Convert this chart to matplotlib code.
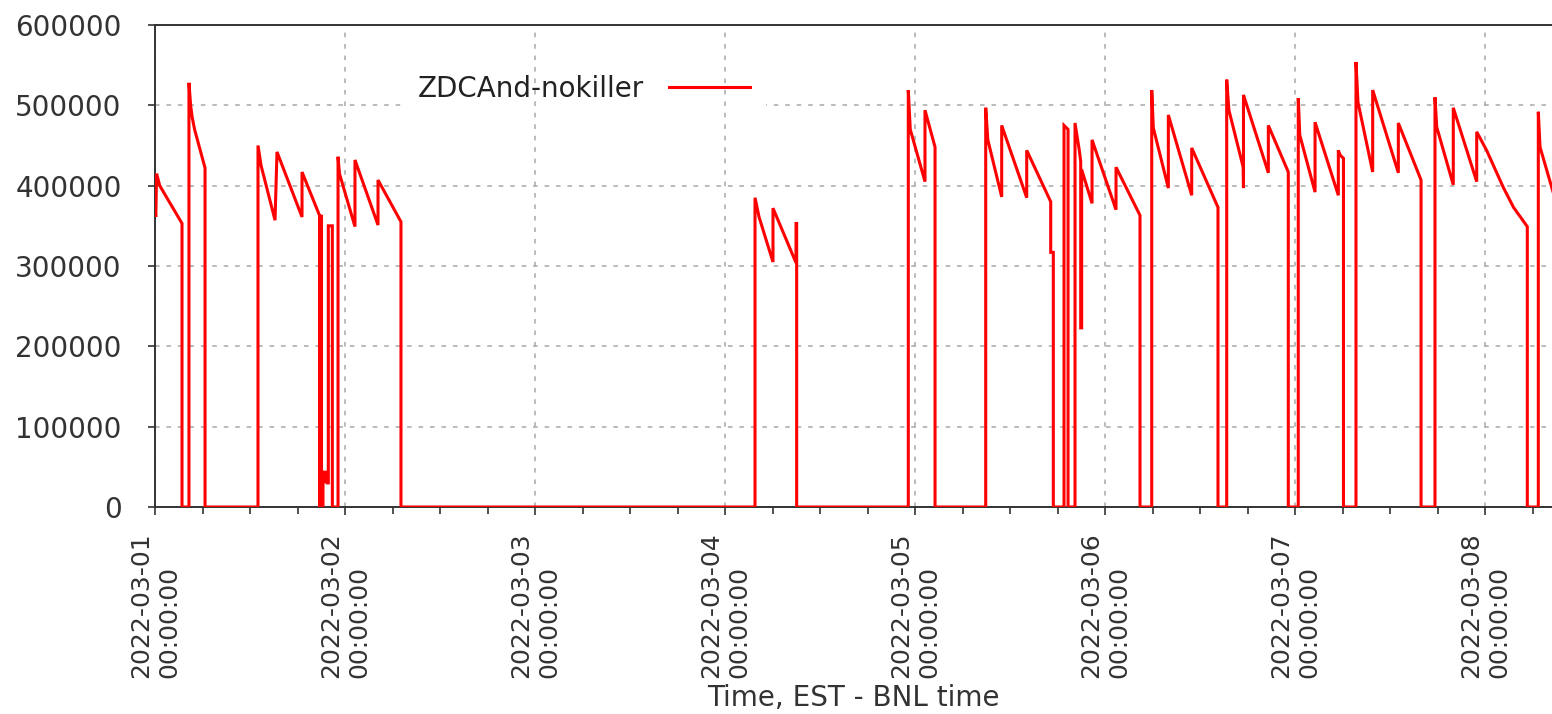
import matplotlib
matplotlib.use("Agg")
import matplotlib.pyplot as plt
import matplotlib.dates as mdates
from matplotlib.patches import Rectangle
import pandas as pd
import numpy as np

# ---- data: hours since 2022-03-01 00:00 (EST) and ZDCAnd-nokiller rate ----
start_time = "2022-03-01 00:00:00"
end_hours = 176.46
series_label = "ZDCAnd-nokiller"
x_label = "Time, EST - BNL time"
y_ticks = [0, 100000, 200000, 300000, 400000, 500000, 600000]

t_hours = [
    0.00, 0.10, 0.20, 0.60, 3.41, 3.41, 4.29, 4.29, 4.50, 4.70, 5.00, 6.32, 6.32,
    13.01, 13.01, 13.40, 15.16, 15.41, 18.57, 18.57, 20.78, 20.78, 20.91, 20.91,
    21.03, 21.03, 21.22, 21.22, 21.47, 21.60, 21.73, 21.89, 21.89, 22.40, 22.40,
    23.12, 23.12, 23.30, 25.26, 25.26, 28.17, 28.17, 31.07, 31.07,
    75.79, 75.79, 76.30, 78.06, 78.06, 80.97, 80.97, 81.05, 81.05,
    95.15, 95.15, 95.40, 97.26, 97.26, 98.53, 98.53,
    104.93, 104.93, 105.20, 106.95, 106.95, 110.11, 110.11, 113.14, 113.14,
    113.47, 113.47, 114.82, 114.82, 115.33, 115.33, 116.21, 116.21, 116.75,
    116.93, 116.93, 117.05, 117.05, 118.36, 118.36, 121.39, 121.39, 124.42,
    124.42, 125.90, 125.90, 126.10, 128.00, 128.00, 130.95, 130.95, 134.27,
    134.27, 135.37, 135.37, 135.65, 137.45, 137.49, 137.49, 140.63, 140.63,
    143.15, 143.15, 144.41, 144.41, 144.60, 146.53, 146.53, 149.47, 149.47,
    149.70, 150.12, 150.12, 151.70, 151.70, 151.95, 153.81, 153.81, 157.05,
    157.05, 159.92, 159.92, 161.68, 161.68, 161.90, 163.99, 163.99, 166.95,
    166.95, 168.20, 170.30, 171.60, 173.34, 173.34, 174.73, 174.73, 174.95,
    176.60,
]
zdc_rate = [
    372000, 361000, 415000, 400000, 353000, 0, 0, 528000, 500000, 485000, 470000, 422000, 0,
    0, 450000, 425000, 357000, 442000, 361000, 417000, 363000, 0, 0, 362000,
    362000, 0, 0, 45000, 30000, 45000, 30000, 30000, 350000, 350000, 0,
    0, 436000, 415000, 349000, 432000, 351000, 407000, 355000, 0,
    0, 385000, 361000, 305000, 372000, 304000, 353000, 353000, 0,
    0, 519000, 470000, 405000, 494000, 448000, 0,
    0, 497000, 457000, 386000, 475000, 385000, 444000, 380000, 317000,
    317000, 0, 0, 475000, 470000, 0, 0, 478000, 444000,
    430000, 223000, 223000, 420000, 378000, 457000, 370000, 423000, 363000,
    0, 0, 519000, 472000, 397000, 488000, 388000, 447000, 373000,
    0, 0, 532000, 494000, 423000, 397000, 513000, 416000, 475000,
    417000, 0, 0, 509000, 463000, 392000, 479000, 388000, 444000,
    438000, 434000, 0, 0, 554000, 504000, 417000, 519000, 416000,
    478000, 407000, 0, 0, 510000, 473000, 401000, 497000, 405000,
    467000, 444000, 398000, 373000, 349000, 0, 0, 492000, 448000,
    392000,
]

t0 = pd.Timestamp(start_time)
times = t0 + pd.to_timedelta(np.array(t_hours), unit="h")

text_color = "#333333"
W, H = 1552, 714
fig = plt.figure(figsize=(W / 100, H / 100), dpi=100)
ax = fig.add_axes([155 / W, (H - 507) / H, (W - 155) / W, (507 - 25) / H])

ax.plot(times, zdc_rate, color="#ff0000", lw=2.2, zorder=3, solid_joinstyle="miter")

ax.set_xlim(t0, t0 + pd.Timedelta(hours=end_hours))
ax.set_ylim(0, 600000)
ax.set_yticks(y_ticks)
ax.set_yticklabels([str(v) for v in y_ticks])

ax.xaxis.set_major_locator(mdates.DayLocator())
ax.xaxis.set_major_formatter(mdates.DateFormatter("%Y-%m-%d\n%H:%M:%S"))
ax.xaxis.set_minor_locator(mdates.HourLocator(byhour=[6, 12, 18]))

ax.tick_params(axis="y", direction="out", length=5, width=1.2, colors=text_color,
               labelsize=20, pad=19)
ax.tick_params(axis="x", which="major", direction="out", length=6, width=1.2,
               colors=text_color, labelsize=18, pad=12)
ax.tick_params(axis="x", which="minor", direction="out", length=5, width=1.2,
               colors=text_color)
for lbl in ax.get_xticklabels():
    lbl.set_rotation(90)
    lbl.set_multialignment("left")
    lbl.set_horizontalalignment("center")
    lbl.set_verticalalignment("top")

grid_kw = dict(color="#a8a8a8", linewidth=1.1, linestyle=(0, (3, 4.5)))
ax.grid(True, axis="y", **grid_kw)
ax.grid(True, axis="x", which="major", **grid_kw)
ax.set_axisbelow(True)
ax.yaxis.set_zorder(0.6)
ax.xaxis.set_zorder(0.8)
# white key area hiding horizontal grid behind the key
ax.add_patch(Rectangle(((402 - 155) / (W - 155), (507 - 130) / 482),
                       (766 - 402) / (W - 155), 70 / 482,
                       transform=ax.transAxes, facecolor="white",
                       edgecolor="none", zorder=0.7))

for side in ["left", "bottom", "top"]:
    ax.spines[side].set_color(text_color)
    ax.spines[side].set_linewidth(1.4)
ax.spines["right"].set_visible(False)

ax.set_xlabel(x_label, fontsize=20, color=text_color)
ax.xaxis.set_label_coords(0.5, (507 - 684) / 482)

leg = ax.legend([ax.lines[0]], [series_label], loc="center left",
                bbox_to_anchor=((418 - 155) / (W - 155), (507 - 89) / 482),
                frameon=False, markerfirst=False, fontsize=20,
                handlelength=2.9, handletextpad=0.9, borderpad=0,
                borderaxespad=0, labelcolor="#222222")
leg.set_zorder(5)

fig.savefig("out.png", dpi=100)
